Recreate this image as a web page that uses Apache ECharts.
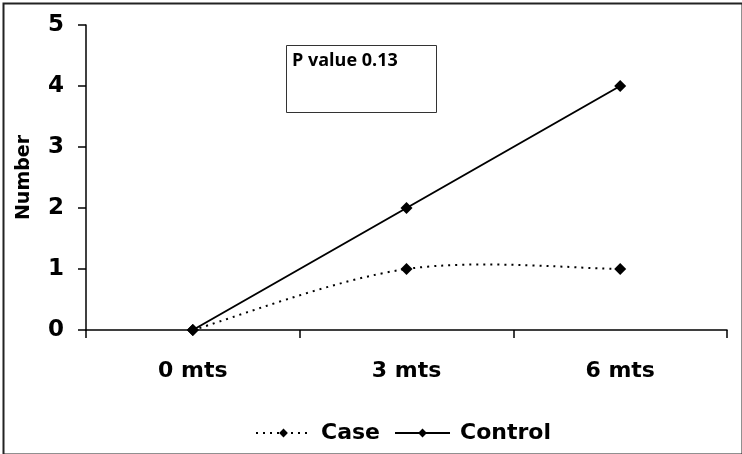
<!DOCTYPE html>
<html><head><meta charset="utf-8">
<script src="https://cdn.jsdelivr.net/npm/echarts@6/dist/echarts.min.js"></script>
<style>html,body{margin:0;padding:0;background:#fff}#c{width:742px;height:454px}</style>
</head><body><div id="c"></div>
<script>
const categories = ['0 mts', '3 mts', '6 mts'];
const caseValues = [0, 1, 1];
const controlValues = [0, 2, 4];
const yTicks = [0, 1, 2, 3, 4, 5];
const annotation = 'P value 0.13';

const chart = echarts.init(document.getElementById('c'), null, {renderer: 'canvas'});
const font = '"DejaVu Sans", sans-serif';
const caseDash = [2, 5];

// Smoothed (Catmull-Rom style) dotted curve through the Case values, via the axis scales
function renderSmooth(params, api) {
  const i = params.dataIndex;
  const n = caseValues.length;
  if (i >= n - 1) return null;
  const pt = k => { k = Math.max(0, Math.min(n - 1, k)); return api.coord([k, caseValues[k]]); };
  const p0 = pt(i - 1), p1 = pt(i), p2 = pt(i + 1), p3 = pt(i + 2);
  return {
    type: 'bezierCurve',
    shape: {
      x1: p1[0], y1: p1[1], x2: p2[0], y2: p2[1],
      cpx1: p1[0] + (p2[0] - p0[0]) / 6, cpy1: p1[1] + (p2[1] - p0[1]) / 6,
      cpx2: p2[0] - (p3[0] - p1[0]) / 6, cpy2: p2[1] - (p3[1] - p1[1]) / 6
    },
    style: {stroke: '#000', fill: null, lineWidth: 2, lineDash: caseDash}
  };
}

chart.setOption({
  animation: false,
  backgroundColor: '#fff',
  grid: {left: 86, right: 15, top: 25, bottom: 124},
  legend: {
    bottom: 5, left: 250,
    itemWidth: 55, itemHeight: 11, itemGap: 14,
    textStyle: {fontFamily: font, fontWeight: 'bold', fontSize: 22, color: '#000', padding: [0, 0, 0, 5]},
    data: [
      {name: 'Case', lineStyle: {opacity: 1, color: '#000', width: 2, type: caseDash}},
      {name: 'Control'}
    ]
  },
  xAxis: {
    type: 'category', data: categories, boundaryGap: true,
    axisLine: {lineStyle: {color: '#000', width: 1.5}},
    axisTick: {show: true, length: 8, inside: false, lineStyle: {color: '#000', width: 1.5}},
    axisLabel: {margin: 30, color: '#000', fontFamily: font, fontWeight: 'bold', fontSize: 22}
  },
  yAxis: {
    type: 'value', min: yTicks[0], max: yTicks[yTicks.length - 1], interval: 1,
    name: 'Number', nameLocation: 'middle', nameGap: 52, nameRotate: 90,
    nameTextStyle: {fontFamily: font, fontWeight: 'bold', fontSize: 19, color: '#000'},
    axisLine: {show: true, lineStyle: {color: '#000', width: 1.5}},
    axisTick: {show: true, length: 8, lineStyle: {color: '#000', width: 1.5}},
    splitLine: {show: false},
    axisLabel: {margin: 22, color: '#000', fontFamily: font, fontWeight: 'bold', fontSize: 23}
  },
  series: [
    {
      name: 'Case', type: 'line', data: caseValues, z: 3,
      symbol: 'diamond', symbolSize: 12,
      itemStyle: {color: '#000'},
      lineStyle: {color: '#000', width: 2, type: caseDash, opacity: 0}
    },
    {
      name: 'Case', type: 'custom', z: 2,
      data: caseValues.map((v, i) => [i, v]),
      encode: {x: 0, y: 1},
      renderItem: renderSmooth
    },
    {
      name: 'Control', type: 'line', data: controlValues, z: 3,
      symbol: 'diamond', symbolSize: 12,
      itemStyle: {color: '#000'},
      lineStyle: {color: '#000', width: 2, type: 'solid'}
    }
  ],
  graphic: [
    {type: 'rect', left: 1, top: 1, shape: {width: 739, height: 451},
     style: {fill: 'none', stroke: '#222', lineWidth: 2}, silent: true},
    {type: 'rect', left: 286, top: 45, shape: {width: 150, height: 67},
     style: {fill: '#fff', stroke: '#333', lineWidth: 1}},
    {type: 'text', left: 292, top: 52,
     style: {text: annotation, fill: '#000', font: 'bold 18px "Open Sans", sans-serif'}}
  ]
});
</script></body></html>
